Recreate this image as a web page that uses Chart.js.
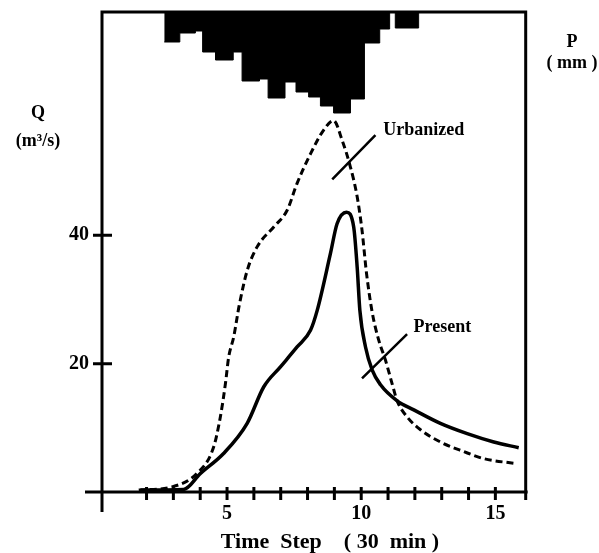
<!DOCTYPE html>
<html>
<head>
<meta charset="utf-8">
<script src="https://cdn.jsdelivr.net/npm/chart.js@4.4.0/dist/chart.umd.min.js"></script>
<style>
  body { margin: 0; background: #fff; }
  #wrap { width: 599px; height: 553px; }
</style>
</head>
<body>
<div id="wrap"><canvas id="myChart"></canvas></div>
<script>
// rainfall blocks: start of each block (time step) and its depth (mm), last edge closes the blocks
const rainEdges = [2.66, 3.24, 3.82, 4.09, 4.57, 5.23, 5.56, 6.21, 6.53, 7.16, 7.57, 8.04, 8.48, 8.97, 9.60, 10.12, 10.69, 11.06, 11.27, 12.14];
const rainDepth = [3.0, 2.1, 1.9, 4.0, 4.8, 4.0, 6.9, 6.7, 8.6, 7.0, 8.0, 8.5, 9.4, 10.1, 8.7, 3.1, 1.7, 0.0, 1.6, 0];

// urbanized hydrograph
const urbanT = [1.71, 2.95, 3.88, 4.50, 4.75, 4.94, 5.06, 5.25, 5.45, 5.75, 6.12, 6.74, 7.24, 7.61, 8.11, 8.60, 8.97, 9.29, 9.60, 9.85, 10.03, 10.20, 10.41, 10.65, 10.90, 11.15, 11.34, 11.71, 12.21, 12.95, 13.82, 14.57, 15.81];
const urbanQ = [0.3, 0.8, 2.9, 7.0, 11.7, 16.9, 21.0, 24.2, 29.0, 34.5, 38.2, 41.3, 43.9, 48.1, 52.7, 56.4, 57.9, 54.8, 50.6, 46.0, 40.8, 34.0, 28.0, 23.7, 20.6, 16.9, 14.2, 11.7, 9.7, 7.8, 6.3, 5.2, 4.4];

// present hydrograph
const presentT = [1.77, 3.38, 4.01, 4.87, 5.75, 6.37, 6.99, 7.61, 8.11, 8.36, 8.85, 9.10, 9.45, 9.72, 9.85, 9.95, 10.16, 10.41, 10.72, 11.34, 11.96, 12.95, 13.95, 14.94, 15.87];
const presentQ = [0.3, 0.4, 2.9, 6.0, 10.7, 16.4, 19.5, 22.6, 25.2, 28.3, 37.1, 41.8, 43.6, 41.3, 35.0, 28.3, 22.6, 19.0, 16.7, 14.2, 12.8, 10.7, 9.1, 7.8, 6.9];

const xTickLabels = [5, 10, 15];
const yTickLabels = [20, 40];

const FONT = '"Liberation Serif", "Times New Roman", serif';

// labels with pointer strokes, in data units
const notes = [
  { text: 'Urbanized', t: 10.82, q: 56.4, from: [8.92, 48.7], to: [10.53, 55.6] },
  { text: 'Present', t: 11.95, q: 25.7, from: [10.03, 17.7], to: [11.71, 24.6] },
];

const pts = (xs, ys) => xs.map((x, i) => ({ x: x, y: ys[i] }));

const framePlugin = {
  id: 'frame',
  afterDraw(chart) {
    const ctx = chart.ctx;
    const a = chart.chartArea;
    const xs = chart.scales.x;
    const ys = chart.scales.y;
    ctx.save();
    ctx.strokeStyle = '#000';
    ctx.fillStyle = '#000';
    ctx.lineWidth = 3;
    ctx.beginPath();
    ctx.moveTo(a.left, a.bottom + 20);
    ctx.lineTo(a.left, a.top);
    ctx.lineTo(a.right, a.top);
    ctx.lineTo(a.right, a.bottom + 8);
    ctx.moveTo(a.left - 17, a.bottom);
    ctx.lineTo(a.right + 2, a.bottom);
    xs.ticks.forEach(t => {
      if (Number.isInteger(t.value) && t.value > 0) {
        const px = xs.getPixelForValue(t.value);
        ctx.moveTo(px, a.bottom - 5);
        ctx.lineTo(px, a.bottom + 8);
      }
    });
    ys.ticks.forEach(t => {
      if (yTickLabels.includes(t.value)) {
        const py = ys.getPixelForValue(t.value);
        ctx.moveTo(a.left - 9, py);
        ctx.lineTo(a.left + 10, py);
      }
    });
    ctx.stroke();

    // pointer strokes
    ctx.lineWidth = 2.5;
    ctx.beginPath();
    notes.forEach(n => {
      ctx.moveTo(xs.getPixelForValue(n.from[0]), ys.getPixelForValue(n.from[1]));
      ctx.lineTo(xs.getPixelForValue(n.to[0]), ys.getPixelForValue(n.to[1]));
    });
    ctx.stroke();

    ctx.textBaseline = 'middle';
    ctx.font = 'bold 18px ' + FONT;
    ctx.textAlign = 'left';
    notes.forEach(n => {
      ctx.fillText(n.text, xs.getPixelForValue(n.t), ys.getPixelForValue(n.q));
    });

    ctx.textAlign = 'center';
    ctx.fillText('Q', 38, 113);
    ctx.fillText('(m³/s)', 38, 141);
    ctx.fillText('P', 572, 42);
    ctx.fillText('( mm )', 572, 63);

    ctx.font = 'bold 22px ' + FONT;
    ctx.fillText('Time  Step    ( 30  min )', 330, 542);
    ctx.restore();
  }
};

window.onload = function() {
  var ctx = document.getElementById('myChart').getContext('2d');
  Chart.defaults.font.family = FONT;
  Chart.defaults.color = '#000';
  new Chart(ctx, {
    type: 'line',
    data: {
      datasets: [
        {
          label: 'P',
          data: pts(rainEdges, rainDepth),
          yAxisID: 'yP',
          stepped: true,
          fill: 'origin',
          backgroundColor: '#000',
          borderColor: '#000',
          borderWidth: 1,
          pointRadius: 0,
        },
        {
          label: 'Urbanized',
          data: pts(urbanT, urbanQ),
          yAxisID: 'y',
          borderColor: '#000',
          borderWidth: 3,
          borderDash: [7, 4],
          cubicInterpolationMode: 'monotone',
          pointRadius: 0,
          fill: false,
        },
        {
          label: 'Present',
          data: pts(presentT, presentQ),
          yAxisID: 'y',
          borderColor: '#000',
          borderWidth: 3.5,
          cubicInterpolationMode: 'monotone',
          pointRadius: 0,
          fill: false,
        },
      ],
    },
    options: {
      responsive: true,
      maintainAspectRatio: false,
      animation: false,
      layout: { padding: { top: 12, right: 73.3, left: 0, bottom: 0 } },
      plugins: {
        legend: { display: false },
        tooltip: { enabled: false },
      },
      scales: {
        x: {
          type: 'linear',
          min: 0.34,
          max: 16.13,
          grid: { display: false, drawTicks: false },
          border: { display: false },
          ticks: {
            stepSize: 1,
            padding: 10,
            font: { size: 20, weight: 'bold' },
            callback: v => xTickLabels.includes(v) ? v : '',
          },
          afterFit: s => { s.height = 61; s.paddingLeft = 0; s.paddingRight = 0; },
        },
        y: {
          min: 0,
          max: 74.8,
          grid: { display: false, drawTicks: false },
          border: { display: false },
          ticks: {
            stepSize: 20,
            padding: 13,
            font: { size: 20, weight: 'bold' },
            callback: v => yTickLabels.includes(v) ? v : '',
          },
          afterFit: s => { s.width = 102; s.paddingTop = 0; s.paddingBottom = 0; },
        },
        yP: {
          display: false,
          position: 'right',
          reverse: true,
          min: 0,
          max: 48,
        },
      },
    },
    plugins: [framePlugin],
  });
};
</script>
</body>
</html>
